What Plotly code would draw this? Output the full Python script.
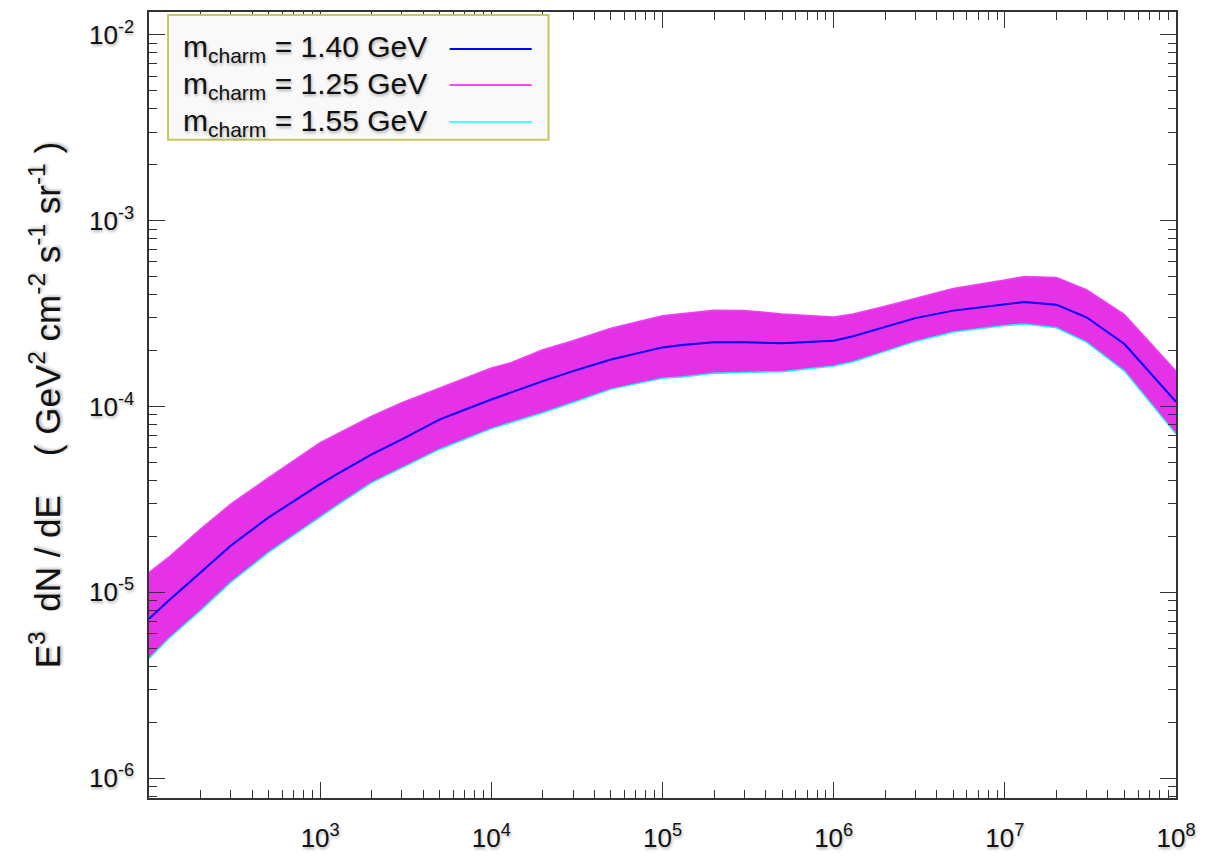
import plotly.graph_objects as go

# Neutrino energy (GeV)
energy = [1e2, 1.3e2, 2e2, 3e2, 5e2,
          1e3, 1.3e3, 2e3, 3e3, 5e3,
          1e4, 1.3e4, 2e4, 3e4, 5e4,
          1e5, 1.3e5, 2e5, 3e5, 5e5,
          1e6, 1.3e6, 2e6, 3e6, 5e6,
          1e7, 1.3e7, 2e7, 3e7, 5e7,
          1e8]

# E^3 dN/dE for the three charm masses
flux_140 = [7.2e-6, 9.0e-6, 1.28e-5, 1.78e-5, 2.53e-5,
            3.82e-5, 4.41e-5, 5.53e-5, 6.65e-5, 8.53e-5,
            1.09e-4, 1.19e-4, 1.37e-4, 1.55e-4, 1.79e-4,
            2.08e-4, 2.14e-4, 2.22e-4, 2.22e-4, 2.19e-4,
            2.26e-4, 2.39e-4, 2.67e-4, 2.99e-4, 3.28e-4,
            3.55e-4, 3.65e-4, 3.53e-4, 3.02e-4, 2.17e-4,
            1.06e-4]
flux_125 = [1.28e-5, 1.54e-5, 2.19e-5, 2.98e-5, 4.14e-5,
            6.38e-5, 7.23e-5, 8.87e-5, 1.047e-4, 1.26e-4,
            1.61e-4, 1.72e-4, 2.02e-4, 2.26e-4, 2.64e-4,
            3.08e-4, 3.16e-4, 3.30e-4, 3.29e-4, 3.15e-4,
            3.03e-4, 3.15e-4, 3.46e-4, 3.80e-4, 4.31e-4,
            4.79e-4, 5.01e-4, 4.95e-4, 4.25e-4, 3.12e-4,
            1.55e-4]
flux_155 = [4.40e-6, 5.62e-6, 7.98e-6, 1.13e-5, 1.64e-5,
            2.55e-5, 3.0e-5, 3.89e-5, 4.69e-5, 5.89e-5,
            7.6e-5, 8.19e-5, 9.25e-5, 1.05e-4, 1.24e-4,
            1.42e-4, 1.44e-4, 1.51e-4, 1.52e-4, 1.54e-4,
            1.65e-4, 1.74e-4, 1.98e-4, 2.24e-4, 2.52e-4,
            2.73e-4, 2.78e-4, 2.65e-4, 2.22e-4, 1.55e-4,
            7.1e-5]

legend_labels = ["m<sub>charm</sub> = 1.40 GeV",
                 "m<sub>charm</sub> = 1.25 GeV",
                 "m<sub>charm</sub> = 1.55 GeV"]
legend_colors = ["#0000ff", "#ff44ff", "#44ffff"]

x_tickvals = [1e3, 1e4, 1e5, 1e6, 1e7, 1e8]
x_ticktext = ["10<sup>3</sup>", "10<sup>4</sup>", "10<sup>5</sup>",
              "10<sup>6</sup>", "10<sup>7</sup>", "10<sup>8</sup>"]
y_tickvals = [1e-6, 1e-5, 1e-4, 1e-3, 1e-2]
y_ticktext = ["10<sup>-6</sup>", "10<sup>-5</sup>", "10<sup>-4</sup>",
              "10<sup>-3</sup>", "10<sup>-2</sup>"]

x_decades = [1e2, 1e3, 1e4, 1e5, 1e6, 1e7]
y_decades = [1e-7, 1e-6, 1e-5, 1e-4, 1e-3, 1e-2]
minor_mult = [2, 3, 4, 5, 6, 7, 8, 9]
x_minor = [d * m for d in x_decades for m in minor_mult]
y_minor = [d * m for d in y_decades for m in minor_mult]

FONT = "Liberation Sans, Arial, sans-serif"
SHADOW = "1px 2px 3px rgba(0,0,0,0.30)"

fig = go.Figure()
fig.add_trace(go.Scatter(x=energy, y=flux_155, mode="lines",
                         line=dict(color="#22eeee", width=1.5),
                         name=legend_labels[2], showlegend=False))
fig.add_trace(go.Scatter(x=energy, y=flux_125, mode="lines",
                         line=dict(color="#f040f0", width=1.5),
                         fill="tonexty", fillcolor="#e632e6",
                         name=legend_labels[1], showlegend=False))
fig.add_trace(go.Scatter(x=energy, y=flux_140, mode="lines",
                         line=dict(color="#0000ff", width=2),
                         name=legend_labels[0], showlegend=False))

axis_common = dict(
    type="log", showline=True, linecolor="#333333", linewidth=1.5,
    mirror="allticks", ticks="inside", ticklen=16, tickwidth=1,
    tickcolor="#333333", showgrid=False, zeroline=False,
    tickfont=dict(family=FONT, size=26, color="#111111", shadow=SHADOW),
)

fig.update_xaxes(range=[2, 8], tickvals=x_tickvals, ticktext=x_ticktext,
                 ticklabelstandoff=16,
                 minor=dict(ticks="inside", ticklen=8, tickwidth=1,
                            tickcolor="#333333", showgrid=False,
                            tickvals=x_minor),
                 **axis_common)
fig.update_yaxes(range=[-6.107, -1.877], tickvals=y_tickvals,
                 ticktext=y_ticktext, ticklabelstandoff=8,
                 minor=dict(ticks="inside", ticklen=8, tickwidth=1,
                            tickcolor="#333333", showgrid=False,
                            tickvals=y_minor),
                 **axis_common)

# Y axis title
fig.add_annotation(
    xref="paper", yref="paper", x=-0.101, y=0.5, xanchor="center",
    yanchor="middle", textangle=-90, showarrow=False,
    text="E<sup>3</sup>\u00a0\u00a0dN\u00a0/\u00a0dE\u00a0\u00a0\u00a0\u00a0(\u00a0GeV<sup>2</sup>\u00a0cm<sup>-2</sup>\u00a0s<sup>-1</sup>\u00a0sr<sup>-1</sup>\u00a0)",
    font=dict(family=FONT, size=35, color="#111111", shadow=SHADOW),
)

# Legend box (drawn manually, gnuplot style: sample on the right)
fig.add_shape(type="rect", xref="paper", yref="paper",
              x0=0.0185, x1=0.389, y0=0.8376, y1=0.9962,
              line=dict(color="#c8c860", width=2), fillcolor="#f9f9f9",
              layer="above")
rows_y = [0.953, 0.907, 0.860]
for lab, col, yy in zip(legend_labels, legend_colors, rows_y):
    fig.add_annotation(xref="paper", yref="paper", x=0.031, y=yy,
                       xanchor="left", yanchor="middle", showarrow=False,
                       text=lab,
                       font=dict(family=FONT, size=30, color="#111111",
                                 shadow=SHADOW))
    fig.add_shape(type="line", xref="paper", yref="paper",
                  x0=0.2928, x1=0.3726, y0=yy, y1=yy,
                  line=dict(color=col, width=2), layer="above")

fig.update_layout(
    width=1206, height=865,
    margin=dict(l=149, r=29, t=10, b=67),
    paper_bgcolor="white", plot_bgcolor="white",
    showlegend=False,
)

fig.write_html("out.html")
